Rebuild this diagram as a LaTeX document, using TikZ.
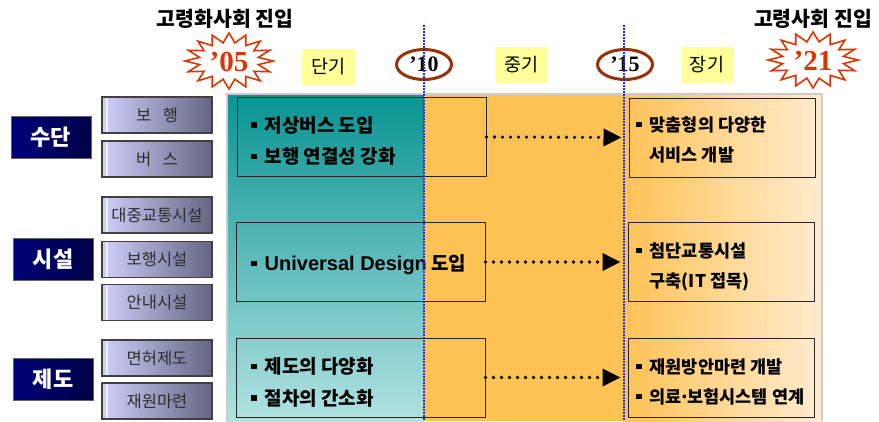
\documentclass[tikz,border=0pt]{standalone}
\usepackage{fontspec}
\setmainfont{Noto Sans CJK KR}
\newfontfamily\latinb{Liberation Sans}
\newfontfamily\serifnum{Liberation Serif}
\usetikzlibrary{arrows.meta,shapes.geometric}
\definecolor{tealtop}{RGB}{8,148,146}
\definecolor{tealbot}{RGB}{178,226,226}
\definecolor{orangemid}{RGB}{255,194,85}
\definecolor{cream}{RGB}{255,236,208}
\definecolor{navyL}{RGB}{0,0,120}
\definecolor{navyR}{RGB}{0,0,72}
\definecolor{lav}{RGB}{208,208,252}
\definecolor{lavdark}{RGB}{100,100,130}
\definecolor{starred}{RGB}{215,55,5}
\definecolor{brownring}{RGB}{150,50,10}
\definecolor{labelyellow}{RGB}{255,255,153}
\definecolor{blueline}{RGB}{40,40,230}
\definecolor{subtext}{RGB}{45,45,45}
\newcommand\bul{\rule[4.5pt]{5.5pt}{5.5pt}\hspace{8pt}}
\newcommand\bulsp{\hspace{13.5pt}}
\begin{document}
\begin{tikzpicture}[x=1pt,y=-1pt,
  cat/.style={minimum width=80pt, minimum height=42pt, inner sep=0pt, left color=navyL, right color=navyR,
    draw=black!60, line width=0.8pt, text=white, font=\fontsize{22}{24}\selectfont\bfseries},
  sub/.style={minimum width=110pt, minimum height=36pt, inner sep=0pt, left color=lav, right color=lavdark,
    draw=black!75, line width=1.2pt, text=subtext, font=\fontsize{16.5}{18}\selectfont,
    path picture={\draw[white!70!lav, line width=1.5pt]
      ([xshift=5pt]path picture bounding box.north west) -- ([xshift=5pt]path picture bounding box.south west);}},
  mbox/.style={draw=black!85, line width=1pt, minimum height=79pt, inner sep=0pt},
  lboxw/.style={mbox, minimum width=249pt},
  rboxw/.style={mbox, minimum width=186pt},
  btxt/.style={anchor=west, align=left, inner sep=0pt, font=\fontsize{19}{31.5}\selectfont\bfseries},
  rtxt/.style={anchor=west, align=left, inner sep=0pt, font=\fontsize{17.5}{30}\selectfont\bfseries},
  dotarrow/.style={line width=3.6pt, line cap=round, dash pattern=on 0pt off 8pt,
    -{Triangle[length=18pt,width=17pt]}, shorten >=7pt},
  toplabel/.style={font=\fontsize{20.5}{22}\selectfont\bfseries, inner sep=0pt},
  ylabel/.style={fill=labelyellow, minimum width=53pt, minimum height=36pt, inner sep=0pt, font=\fontsize{18.5}{20}\selectfont},
  ring/.style={ellipse, draw=brownring, line width=3pt, fill=white, minimum width=55pt, minimum height=30pt, inner sep=0pt,
    font=\serifnum\fontsize{22}{24}\selectfont\bfseries},
  startext/.style={text=starred, inner sep=0pt, font=\serifnum\fontsize{29}{31}\selectfont\bfseries},
  starline/.style={draw=starred, line width=1.6pt, fill=white, line join=miter},
  vline/.style={draw=blueline, line width=2pt, dash pattern=on 1.5pt off 1.5pt}
]
\useasboundingbox (0,0) rectangle (879,421);

% background panels
\fill[top color=tealtop, bottom color=tealbot] (227,94) rectangle (424,421);
\fill[orangemid] (424,94) rectangle (623,421);
\fill[left color=orangemid, right color=cream] (623,94) rectangle (822,421);
\draw[black!20, line width=1.2pt] (227,421) -- (227,94) -- (822,94) -- (822,421);

% top labels
\node[toplabel] (t1) at (225,19) {고령화사회 진입};
\node[toplabel] (t2) at (813,19) {고령사회 진입};

% starbursts
\draw[starline] (273,61) \foreach \i in {1,...,31}{
  -- ({229+ifthenelse(mod(\i,2)==0,44,30)*cos(\i*11.25)}, {61+ifthenelse(mod(\i,2)==0,28,18.5)*sin(\i*11.25)}) } -- cycle;
\node[startext] (y05) at (229,62) {’05};
\draw[starline] (858,60) \foreach \i in {1,...,31}{
  -- ({813+ifthenelse(mod(\i,2)==0,45,31)*cos(\i*11.25)}, {60+ifthenelse(mod(\i,2)==0,28,18.5)*sin(\i*11.25)}) } -- cycle;
\node[startext] (y21) at (813,61) {’21};

% period labels
\node[ylabel] (p1) at (328.5,67) {단기};
\node[ylabel] (p2) at (521.5,65) {중기};
\node[ylabel] (p3) at (707,65) {장기};

% rings
\node[ring] (y10) at (424,64.5) {’10};
\node[ring] (y15) at (625,64.5) {’15};

% category boxes
\node[cat] (c1) at (51,137) {수단};
\node[cat] (c2) at (53,259.5) {시설};
\node[cat] (c3) at (53,379.5) {제도};

% sub boxes
\node[sub] (s1) at (157,115) {보\hspace{0.7em}행};
\node[sub] (s2) at (157,159) {버\hspace{0.7em}스};
\node[sub] (s3) at (157,215) {대중교통시설};
\node[sub] (s4) at (157,259.5) {보행시설};
\node[sub] (s5) at (157,302.5) {안내시설};
\node[sub] (s6) at (157,358) {면허제도};
\node[sub] (s7) at (157,401) {재원마련};

% main boxes
\node[lboxw] (l1) at (361.5,137) {};
\node[rboxw] (r1) at (722,137.5) {};
\node[lboxw] (l2) at (360.5,262) {};
\node[rboxw] (r2) at (721,262) {};
\node[lboxw] (l3) at (360.5,377.5) {};
\node[rboxw] (r3) at (721,377.5) {};

% box texts
\node[btxt] (l1t) at (251,141) {\bul 저상버스 도입\\\bul 보행 연결성 강화};
\node[rtxt] (r1t) at (636,140) {\bul 맞춤형의 다양한\\\bulsp 서비스 개발};
\node[btxt] (l2t) at (251,265) {\bul {\latinb\fontsize{20}{22}\selectfont\bfseries Universal Design} 도입};
\node[rtxt] (r2t) at (636,267) {\bul 첨단교통시설\\\bulsp 구축(IT 접목)};
\node[btxt] (l3t) at (251,382.5) {\bul 제도의 다양화\\\bul 절차의 간소화};
\node[rtxt] (r3t) at (636,382) {\bul 재원방안마련 개발\\\bul 의료\kern-2.5pt·\kern-2.5pt 보험시스템 연계};

% arrows
\draw[dotarrow] (l1.east) -- (r1.west);
\draw[dotarrow] (l2.east) -- (r2.west);
\draw[dotarrow] (l3.east) -- (r3.west);

% blue dotted markers
\coordinate (v10a) at (424,25);
\coordinate (v10b) at (424,421);
\coordinate (v15a) at (624,25);
\coordinate (v15b) at (624,421);
\draw[vline] (v10a) -- (v10b);
\draw[vline] (v15a) -- (v15b);
\end{tikzpicture}
\end{document}
